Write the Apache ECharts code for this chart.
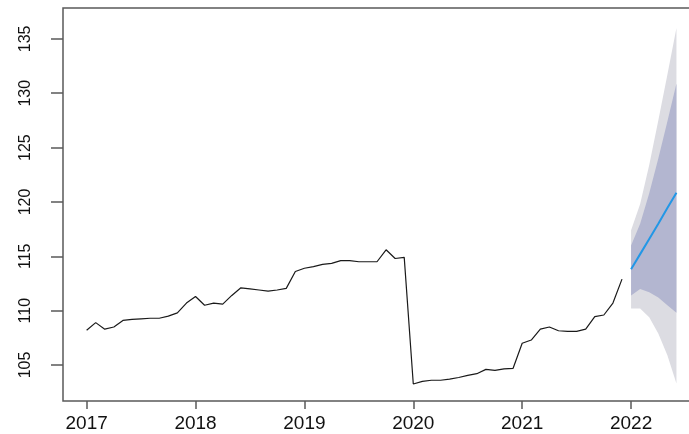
<!DOCTYPE html>
<html>
<head>
<meta charset="utf-8">
<script src="https://cdn.jsdelivr.net/npm/echarts@6/dist/echarts.min.js"></script>
<style>
html,body{margin:0;padding:0;background:#fff;overflow:hidden;}
#c{width:720px;height:434px;}
</style>
</head>
<body>
<div id="c"></div>
<script>
// Observed monthly series, Jan 2017 .. Dec 2021
const startYear = 2017;
const observed = [
  108.2, 108.9, 108.3, 108.5, 109.1, 109.2, 109.25, 109.3, 109.3, 109.5, 109.8, 110.7,
  111.3, 110.5, 110.7, 110.6, 111.4, 112.1, 112.0, 111.9, 111.8, 111.9, 112.05, 113.6,
  113.9, 114.05, 114.25, 114.35, 114.6, 114.6, 114.5, 114.5, 114.5, 115.6, 114.8, 114.9,
  103.25, 103.5, 103.6, 103.6, 103.7, 103.85, 104.05, 104.2, 104.6, 104.5, 104.65, 104.7,
  107.0, 107.3, 108.3, 108.5, 108.15, 108.1, 108.1, 108.3, 109.45, 109.6, 110.7, 112.9
];
// Forecast Jan 2022 .. Jun 2022
const fcStart = 2022;
const fcMean = [113.8, 115.2, 116.6, 118.0, 119.45, 120.85];
const lo80 = [111.4, 112.0, 111.7, 111.2, 110.5, 109.8];
const hi80 = [116.0, 118.0, 120.8, 124.0, 127.4, 130.9];
const lo95 = [110.2, 110.2, 109.4, 107.9, 105.9, 103.3];
const hi95 = [117.4, 119.8, 123.4, 127.5, 131.7, 136.0];
const xTicks = [2017, 2018, 2019, 2020, 2021, 2022];
const yTicks = [105, 110, 115, 120, 125, 130, 135];

const obsData = observed.map((v, i) => [startYear + i / 12, v]);
const fcX = fcMean.map((v, i) => fcStart + i / 12);
const fcData = fcMean.map((v, i) => [fcX[i], v]);

function bandSeries(lo, hi, color, z) {
  return {
    type: 'custom',
    z: z,
    silent: true,
    data: fcX.map((x, i) => [x, hi[i], lo[i]]),
    renderItem: function (params, api) {
      if (params.dataIndex !== 0) return;
      const pts = [];
      for (let i = 0; i < fcX.length; i++) pts.push(api.coord([fcX[i], hi[i]]));
      for (let i = fcX.length - 1; i >= 0; i--) pts.push(api.coord([fcX[i], lo[i]]));
      return { type: 'polygon', shape: { points: pts }, style: { fill: color, stroke: null } };
    }
  };
}

const chart = echarts.init(document.getElementById('c'), null, { renderer: 'canvas' });
const lab = { fontFamily: 'Liberation Sans, Arial, sans-serif', color: '#111' };
chart.setOption({
  animation: false,
  backgroundColor: '#fff',
  grid: { left: 63, top: 8, right: 20, bottom: 33, show: true, borderColor: '#5a5a5a', borderWidth: 1.5, backgroundColor: 'transparent' },
  xAxis: {
    type: 'value', min: 2016.783, max: 2022.633,
    axisLine: { show: false },
    splitLine: { show: false },
    axisTick: { show: true, customValues: xTicks, length: 8, lineStyle: { color: '#5a5a5a', width: 1.5 } },
    axisLabel: Object.assign({ customValues: xTicks, margin: 13, fontSize: 19, formatter: v => String(Math.round(v)) }, lab)
  },
  yAxis: {
    type: 'value', min: 101.69, max: 137.84,
    axisLine: { show: false },
    splitLine: { show: false },
    axisTick: { show: true, customValues: yTicks, length: 12, lineStyle: { color: '#5a5a5a', width: 1.5 } },
    axisLabel: Object.assign({ customValues: yTicks, rotate: 90, margin: 29, fontSize: 16, formatter: v => String(Math.round(v)) }, lab)
  },
  series: [
    bandSeries(lo95, hi95, '#dcdce2', 1),
    bandSeries(lo80, hi80, '#b3b6d0', 2),
    { type: 'line', data: obsData, symbol: 'none', z: 3, lineStyle: { color: '#1a1a1a', width: 1.2 } },
    { type: 'line', data: fcData, symbol: 'none', z: 4, lineStyle: { color: '#2297e6', width: 2 } }
  ]
});
</script>
</body>
</html>
